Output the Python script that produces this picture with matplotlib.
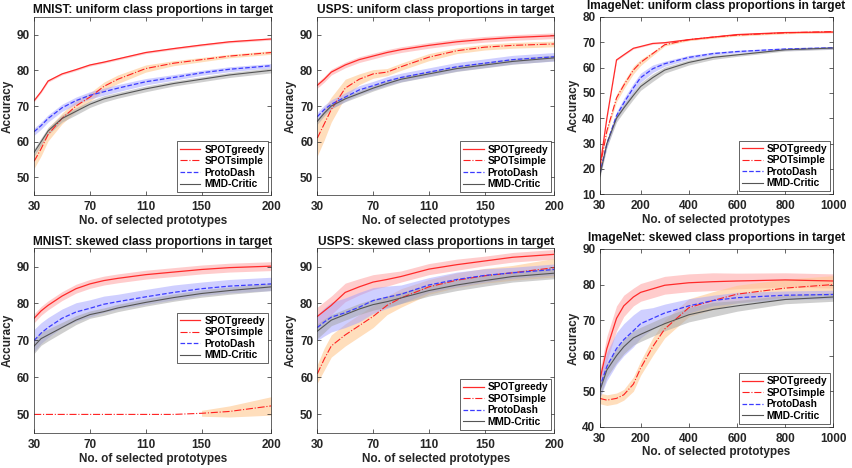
import numpy as np
import matplotlib
matplotlib.use("Agg")
import matplotlib.pyplot as plt

plt.rcParams['font.family'] = ['Liberation Sans', 'DejaVu Sans']
plt.rcParams['font.weight'] = 'bold'

# x grids (number of selected prototypes)
x_small = [30, 35, 40, 50, 60, 70, 80, 90, 110, 130, 150, 170, 200]
x_big = [30, 60, 100, 130, 170, 200, 250, 300, 400, 500, 600, 800, 1000]

# MNIST, uniform
mnist_u_greedy = [71.5, 74, 77, 79, 80.2, 81.5, 82.3, 83.2, 85, 86.1, 87.1, 88, 88.8]
mnist_u_greedy_sd = [0.3] * 13
mnist_u_simple = [54.5, 58, 62, 66.5, 70, 72.5, 75.5, 77.5, 80.5, 82, 83, 84, 85]
mnist_u_simple_sd = [2, 2, 1.8, 1.5, 1.5, 1.2, 1.2, 1.2, 1, 0.7, 0.6, 0.5, 0.5]
mnist_u_proto = [62.8, 64.5, 66.5, 69.5, 71.5, 73, 74, 75, 76.8, 78, 79.3, 80.3, 81.3]
mnist_u_proto_sd = [1, 1, 1, 1, 1, 1, 1, 1, 0.9, 0.8, 0.7, 0.7, 0.6]
mnist_u_mmd = [57, 60, 63, 66.5, 68.5, 70.5, 72, 73, 74.8, 76.3, 77.5, 78.7, 80]
mnist_u_mmd_sd = [1, 1, 1, 1, 1, 0.9, 0.9, 0.8, 0.8, 0.7, 0.7, 0.7, 0.7]

# USPS, uniform
usps_u_greedy = [75.8, 77.5, 79.5, 81.5, 83, 84, 85, 85.8, 87, 88, 88.7, 89.2, 89.7]
usps_u_greedy_sd = [0.8] * 13
usps_u_simple = [61, 65, 69, 75, 77.5, 79, 79.5, 81, 83.7, 85.5, 86.5, 87, 87.4]
usps_u_simple_sd = [5, 4.5, 3.5, 2.5, 1.5, 1.2, 1, 1, 1, 0.8, 0.8, 0.8, 0.8]
usps_u_proto = [67, 69, 70.5, 72.5, 74.5, 75.7, 77, 78, 79.5, 81, 82, 83, 83.8]
usps_u_proto_sd = [1.2] * 13
usps_u_mmd = [65.7, 68, 70, 72, 73.5, 75, 76.3, 77.5, 79, 80.5, 81.5, 82.5, 83.5]
usps_u_mmd_sd = [0.8] * 13

# ImageNet, uniform
imnet_u_greedy = [20, 40, 63, 65, 67.6, 68.3, 69.5, 69.8, 71, 72, 73, 73.8, 74]
imnet_u_greedy_sd = [0.3] * 13
imnet_u_simple = [20, 35, 48, 53, 59, 62, 65.5, 69, 71, 72, 72.8, 73.7, 74.2]
imnet_u_simple_sd = [0.5, 1, 1.5, 1.5, 1.5, 1.2, 0.8, 0.5, 0.4, 0.4, 0.4, 0.4, 0.4]
imnet_u_proto = [18, 30, 41, 46, 52, 56, 59.5, 61.5, 64, 65.5, 66.3, 67.3, 67.8]
imnet_u_proto_sd = [1, 1.5, 1.5, 1.8, 1.8, 1.8, 1.5, 1, 0.8, 0.6, 0.5, 0.5, 0.5]
imnet_u_mmd = [17, 30, 40, 44, 49, 52.5, 56, 59, 62, 64, 65, 67, 67.7]
imnet_u_mmd_sd = [1, 1.5, 1.5, 1.5, 1.5, 1.5, 1.5, 1.2, 1, 0.8, 0.6, 0.5, 0.5]

# MNIST, skewed
mnist_s_greedy = [76, 78, 79.5, 82, 84, 85.3, 86.2, 86.8, 87.8, 88.5, 89.2, 89.7, 90.1]
mnist_s_greedy_sd = [1.2] * 13
mnist_s_simple = [50, 50, 50, 50, 50, 50, 50, 50, 50, 50, 50.3, 50.8, 52.3]
mnist_s_simple_sd = [0, 0, 0, 0, 0, 0, 0, 0, 0, 0, 0.8, 1.5, 2.5]
mnist_s_proto = [70, 72, 73.5, 76, 77.7, 78.7, 79.8, 80.5, 81.8, 83, 84, 84.7, 85.3]
mnist_s_proto_sd = [3, 2.8, 2.7, 2.5, 2.5, 2.3, 2.2, 2, 2, 2, 1.8, 1.8, 1.8]
mnist_s_mmd = [68.5, 70.5, 71.5, 73.5, 75.5, 77, 77.8, 78.8, 80.3, 81.6, 82.7, 83.5, 84.5]
mnist_s_mmd_sd = [2, 1.8, 1.6, 1.4, 1.2, 1, 1, 1, 1, 1, 1, 1, 1]

# USPS, skewed
usps_s_greedy = [76.5, 78, 79.5, 83, 84.5, 85.8, 86.5, 87.3, 89.3, 90.5, 91.5, 92.5, 93.3]
usps_s_greedy_sd = [2.5, 2.5, 2.5, 2.5, 2.2, 2, 1.8, 1.5, 1.5, 1.5, 1.3, 1.3, 1.3]
usps_s_simple = [61, 65, 68.5, 71.5, 74, 76.5, 79.5, 81.5, 84.5, 86.3, 87.5, 88.3, 89.7]
usps_s_simple_sd = [2.5, 3, 3, 3, 3, 3, 2.5, 2.5, 2, 2, 2, 2, 2.5]
usps_s_proto = [73.5, 75, 76.3, 77.5, 79, 80.8, 81.7, 82.5, 85, 86.5, 87.6, 88.3, 89.2]
usps_s_proto_sd = [3.5, 3.8, 4, 4, 4, 3.5, 3, 2.5, 2, 2, 1.8, 1.5, 1.5]
usps_s_mmd = [72.5, 74, 75.5, 77, 78.5, 79.7, 80.5, 81.5, 83.5, 85, 86.2, 87.3, 88.2]
usps_s_mmd_sd = [2, 1.8, 1.5, 1.5, 1.5, 1.5, 1.5, 1.5, 1.5, 1.5, 1.5, 1.5, 1.5]

# ImageNet, skewed
imnet_s_greedy = [53, 62, 70.5, 74, 76.5, 77.8, 78.8, 79.8, 80.5, 80.8, 81, 81.3, 81]
imnet_s_greedy_sd = [2.5, 3.5, 3.5, 3, 2.5, 2.5, 2.5, 2.5, 2.5, 2.5, 2.2, 2, 2]
imnet_s_simple = [48, 47.5, 48, 49, 52, 56.5, 62.5, 67.5, 73.5, 75.5, 77.3, 79, 80]
imnet_s_simple_sd = [1.5, 1.5, 1.5, 1.5, 2, 2, 2.5, 2.5, 2.5, 2.5, 2.5, 2.5, 2.5]
imnet_s_proto = [51, 57, 62, 64.5, 67, 69, 70.5, 72, 74, 75.5, 76.3, 77, 77.2]
imnet_s_proto_sd = [3, 4, 4.5, 4.5, 4.5, 4, 3, 2.5, 2, 1.5, 1.5, 1.2, 1.2]
imnet_s_mmd = [50, 56, 60, 62.5, 65, 66, 67.5, 69, 71.5, 73, 74, 75.8, 76.5]
imnet_s_mmd_sd = [2, 2, 2, 2, 2, 2, 2, 2, 2, 2, 1.5, 1.2, 1.2]

names = ['SPOTgreedy', 'SPOTsimple', 'ProtoDash', 'MMD-Critic']
line_col = ['#ff2a2a', '#ff2020', '#3b3bff', '#555555']
band_col = ['#ff9a9a', '#ffc890', '#a0a0ff', '#a8a8a8']
band_alpha = [0.5, 0.6, 0.5, 0.55]
styles = ['-', '-.', '--', '-']
widths = [0.9, 0.8, 0.9, 0.8]

panels = [
    dict(title='MNIST: uniform class proportions in target', x=x_small,
         series=[(mnist_u_greedy, mnist_u_greedy_sd), (mnist_u_simple, mnist_u_simple_sd),
                 (mnist_u_proto, mnist_u_proto_sd), (mnist_u_mmd, mnist_u_mmd_sd)],
         xlim=(30, 200), xt=[30, 70, 110, 150, 200], ylim=(45, 95), yt=[50, 60, 70, 80, 90],
         pos=[0.040, 0.583, 0.278, 0.381], leg=(1, 0), tpad=2.5),
    dict(title='USPS: uniform class proportions in target', x=x_small,
         series=[(usps_u_greedy, usps_u_greedy_sd), (usps_u_simple, usps_u_simple_sd),
                 (usps_u_proto, usps_u_proto_sd), (usps_u_mmd, usps_u_mmd_sd)],
         xlim=(30, 200), xt=[30, 70, 110, 150, 200], ylim=(45, 95), yt=[50, 60, 70, 80, 90],
         pos=[0.372, 0.583, 0.278, 0.381], leg=(1, 0), tpad=2.5),
    dict(title='ImageNet: uniform class proportions in target', x=x_big,
         series=[(imnet_u_greedy, imnet_u_greedy_sd), (imnet_u_simple, imnet_u_simple_sd),
                 (imnet_u_proto, imnet_u_proto_sd), (imnet_u_mmd, imnet_u_mmd_sd)],
         xlim=(30, 1000), xt=[30, 200, 400, 600, 800, 1000], ylim=(10, 80),
         yt=[10, 20, 30, 40, 50, 60, 70, 80],
         pos=[0.703, 0.585, 0.274, 0.379], leg=(1, 0), tpad=6),
    dict(title='MNIST: skewed class proportions in target', x=x_small,
         series=[(mnist_s_greedy, mnist_s_greedy_sd), (mnist_s_simple, mnist_s_simple_sd),
                 (mnist_s_proto, mnist_s_proto_sd), (mnist_s_mmd, mnist_s_mmd_sd)],
         xlim=(30, 200), xt=[30, 70, 110, 150, 200], ylim=(45, 95), yt=[50, 60, 70, 80, 90],
         pos=[0.040, 0.075, 0.278, 0.395], leg=(1, 0.36), tpad=2.5),
    dict(title='USPS: skewed class proportions in target', x=x_small,
         series=[(usps_s_greedy, usps_s_greedy_sd), (usps_s_simple, usps_s_simple_sd),
                 (usps_s_proto, usps_s_proto_sd), (usps_s_mmd, usps_s_mmd_sd)],
         xlim=(30, 200), xt=[30, 70, 110, 150, 200], ylim=(45, 95), yt=[50, 60, 70, 80, 90],
         pos=[0.372, 0.075, 0.278, 0.395], leg=(1, 0), tpad=2.5),
    dict(title='ImageNet: skewed class proportions in target', x=x_big,
         series=[(imnet_s_greedy, imnet_s_greedy_sd), (imnet_s_simple, imnet_s_simple_sd),
                 (imnet_s_proto, imnet_s_proto_sd), (imnet_s_mmd, imnet_s_mmd_sd)],
         xlim=(30, 1000), xt=[30, 200, 400, 600, 800, 1000], ylim=(40, 90),
         yt=[40, 50, 60, 70, 80, 90],
         pos=[0.703, 0.088, 0.274, 0.380], leg=(1, 0), tpad=6),
]

fig = plt.figure(figsize=(8.53, 4.68), dpi=100)

for p in panels:
    ax = fig.add_axes(p['pos'])
    x = np.array(p['x'])
    # bands first, lines on top
    for i, (m, sd) in enumerate(p['series']):
        m = np.array(m)
        sd = np.array(sd)
        ax.fill_between(x, m - sd, m + sd, where=sd > 0, color=band_col[i],
                        alpha=band_alpha[i], linewidth=0)
    for i, (m, sd) in enumerate(p['series']):
        ax.plot(x, m, styles[i], color=line_col[i], lw=widths[i], label=names[i])
    ax.set_xlim(p['xlim'])
    ax.set_ylim(p['ylim'])
    ax.set_xticks(p['xt'])
    ax.set_yticks(p['yt'])
    ax.tick_params(direction='in', length=3, width=0.5, labelsize=8.5,
                   top=True, right=True, colors='#262626')
    ax.tick_params(axis='x', pad=4.5)
    ax.tick_params(axis='y', pad=3)
    for s in ax.spines.values():
        s.set_linewidth(0.5)
        s.set_color('#262626')
    ax.set_title(p['title'], fontsize=8.6, fontweight='bold', pad=p['tpad'], color='#111111')
    ax.set_xlabel('No. of selected prototypes', fontsize=8.5, fontweight='bold',
                  labelpad=1, color='#262626')
    ax.set_ylabel('Accuracy', fontsize=8.5, fontweight='bold', labelpad=2, color='#262626')
    leg = ax.legend(loc='lower right', bbox_to_anchor=p['leg'], fontsize=7.3,
                    frameon=True, fancybox=False, framealpha=1, borderaxespad=0.3,
                    handlelength=2.0, handletextpad=0.4, labelspacing=0.15,
                    borderpad=0.3)
    leg.get_frame().set_edgecolor('#262626')
    leg.get_frame().set_linewidth(0.5)

fig.savefig('out.png', dpi=100)
